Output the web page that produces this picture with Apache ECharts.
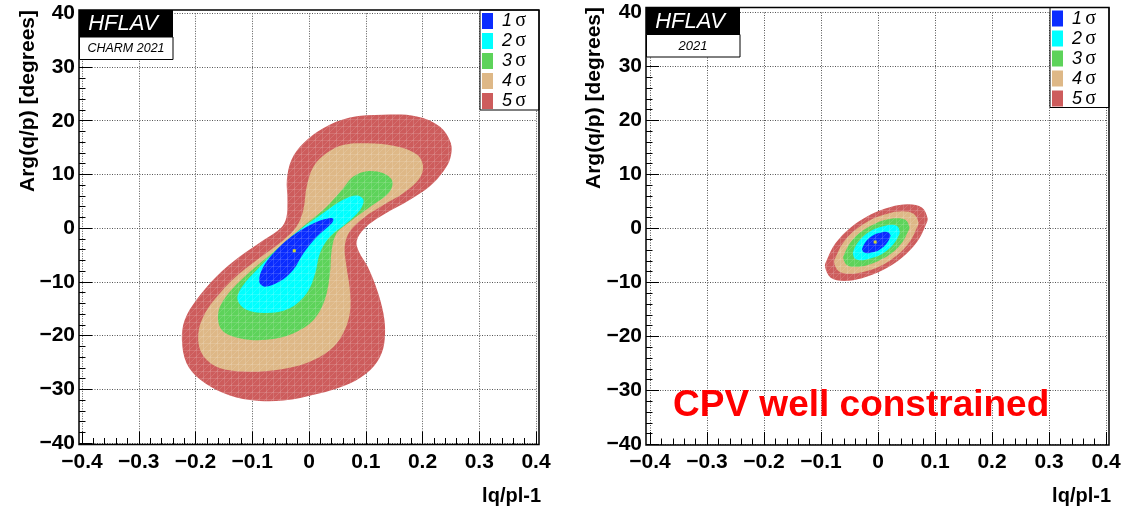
<!DOCTYPE html>
<html>
<head>
<meta charset="utf-8">
<script src="https://cdn.jsdelivr.net/npm/echarts@6/dist/echarts.min.js"></script>
<style>
  html, body { margin: 0; padding: 0; background: #fff; }
  #chart { width: 1135px; height: 509px; }
</style>
</head>
<body>
<div id="chart"></div>
<script>
// Axis ticks shared by both panels
const xTicks = [-0.4, -0.3, -0.2, -0.1, 0, 0.1, 0.2, 0.3, 0.4];
const yTicks = [-40, -30, -20, -10, 0, 10, 20, 30, 40];

const levelNames = ['1 σ', '2 σ', '3 σ', '4 σ', '5 σ'];
const levelColors = ['#0a2cff', '#00ffff', '#5dd35a', '#deb887', '#cd5c5c'];

// CHARM 2021 fit: confidence contours in (|q/p|-1, Arg(q/p)) plane
const charm5 = [[0.131,21.1],[0.190,20.8],[0.231,18.9],[0.250,15.8],[0.249,13.0],[0.237,10.6],[0.213,7.8],[0.178,5.3],[0.131,2.5],[0.098,0.0],[0.084,-2.4],[0.088,-4.4],[0.104,-7.3],[0.120,-11.5],[0.131,-15.8],[0.134,-19.6],[0.128,-23.3],[0.108,-26.4],[0.072,-28.9],[0.014,-30.9],[-0.045,-32.1],[-0.104,-32.0],[-0.151,-30.7],[-0.192,-28.2],[-0.216,-25.1],[-0.224,-20.8],[-0.219,-17.1],[-0.198,-13.3],[-0.163,-9.0],[-0.122,-5.3],[-0.080,-2.2],[-0.050,0.0],[-0.040,1.9],[-0.038,5.3],[-0.039,9.0],[-0.031,12.7],[-0.010,15.8],[0.025,18.6],[0.072,20.6]];
const charm4 = [[0.102,15.8],[0.155,15.2],[0.190,13.7],[0.201,11.5],[0.193,9.0],[0.166,6.5],[0.131,4.3],[0.096,1.9],[0.072,-0.6],[0.063,-3.4],[0.066,-7.1],[0.072,-11.5],[0.072,-15.8],[0.060,-19.6],[0.037,-22.7],[-0.004,-25.1],[-0.057,-26.4],[-0.116,-26.7],[-0.163,-25.8],[-0.189,-23.3],[-0.195,-19.6],[-0.183,-15.8],[-0.157,-12.1],[-0.122,-8.4],[-0.080,-5.0],[-0.045,-2.2],[-0.022,0.3],[-0.010,3.4],[-0.004,7.8],[0.008,11.5],[0.031,14.0],[0.060,15.5]];
const charm3 = [[0.102,10.6],[0.131,10.2],[0.147,8.7],[0.140,6.5],[0.108,4.0],[0.072,1.2],[0.049,-0.9],[0.040,-4.0],[0.037,-8.4],[0.028,-13.3],[0.008,-17.1],[-0.028,-19.6],[-0.075,-20.8],[-0.122,-20.5],[-0.154,-18.9],[-0.160,-15.8],[-0.148,-13.0],[-0.122,-9.9],[-0.086,-6.5],[-0.045,-2.8],[-0.004,0.9],[0.031,4.0],[0.060,7.4],[0.078,9.6]];
const charm2 = [[0.084,6.1],[0.096,5.3],[0.090,3.4],[0.066,0.9],[0.037,-1.6],[0.019,-4.7],[0.011,-8.4],[-0.004,-12.1],[-0.034,-14.9],[-0.075,-15.8],[-0.110,-15.2],[-0.126,-13.3],[-0.118,-10.9],[-0.092,-7.8],[-0.057,-4.0],[-0.016,-0.3],[0.025,2.8],[0.060,5.3]];
const charm1 = [[0.043,1.7],[0.040,0.9],[0.014,-1.6],[-0.010,-4.7],[-0.028,-7.8],[-0.051,-9.9],[-0.078,-10.9],[-0.088,-9.9],[-0.080,-7.1],[-0.057,-4.0],[-0.022,-0.9],[0.014,1.2],[0.037,1.9]];
const charmBest = [[-0.026, -4.2]];

// 2021 fit with CPV well constrained
const cpv5 = [[0.087,1.9],[0.077,3.9],[0.054,4.5],[0.022,4.0],[-0.013,2.6],[-0.048,0.2],[-0.075,-2.8],[-0.090,-5.9],[-0.093,-7.1],[-0.083,-9.1],[-0.060,-9.7],[-0.028,-9.2],[0.007,-7.8],[0.042,-5.4],[0.069,-2.4],[0.084,0.7]];
const cpv4 = [[0.071,1.1],[0.063,2.7],[0.044,3.2],[0.018,2.8],[-0.011,1.7],[-0.040,-0.3],[-0.062,-2.8],[-0.074,-5.3],[-0.077,-6.3],[-0.069,-7.9],[-0.050,-8.4],[-0.024,-8.0],[0.005,-6.9],[0.034,-4.9],[0.056,-2.4],[0.068,0.1]];
const cpv3 = [[0.055,0.3],[0.048,1.6],[0.033,1.9],[0.013,1.6],[-0.009,0.7],[-0.032,-0.8],[-0.049,-2.7],[-0.059,-4.7],[-0.061,-5.5],[-0.054,-6.8],[-0.039,-7.1],[-0.019,-6.8],[0.003,-5.9],[0.026,-4.4],[0.043,-2.5],[0.053,-0.5]];
const cpv2 = [[0.038,-0.5],[0.034,0.4],[0.023,0.7],[0.009,0.4],[-0.008,-0.2],[-0.024,-1.3],[-0.036,-2.7],[-0.043,-4.1],[-0.044,-4.7],[-0.040,-5.6],[-0.029,-5.9],[-0.015,-5.6],[0.002,-5.0],[0.018,-3.9],[0.030,-2.5],[0.037,-1.1]];
const cpv1 = [[0.022,-1.3],[0.019,-0.8],[0.013,-0.6],[0.004,-0.8],[-0.006,-1.1],[-0.016,-1.8],[-0.023,-2.7],[-0.027,-3.5],[-0.028,-3.9],[-0.025,-4.4],[-0.019,-4.6],[-0.010,-4.4],[0.000,-4.1],[0.010,-3.4],[0.017,-2.5],[0.021,-1.7]];
const cpvBest = [[-0.005, -2.5]];

const FONT = '"Liberation Sans", Arial, Helvetica, sans-serif';

// faint crosshatch texture laid over the filled contours
function hatchTile() {
  const c = document.createElement('canvas');
  c.width = 7; c.height = 7;
  const g = c.getContext('2d');
  g.strokeStyle = 'rgba(255,255,255,0.13)';
  g.lineWidth = 1;
  g.beginPath();
  g.moveTo(0.5, 0); g.lineTo(0.5, 7);
  g.moveTo(0, 0.5); g.lineTo(7, 0.5);
  g.moveTo(0, 7); g.lineTo(7, 0);
  g.stroke();
  return c;
}
const hatch = { image: hatchTile(), repeat: 'repeat' };

function region(name, pts, fill, axis, z) {
  return {
    type: 'custom',
    name: name,
    xAxisIndex: axis, yAxisIndex: axis,
    z: z,
    silent: true,
    animation: false,
    data: pts,
    encode: { x: 0, y: 1 },
    itemStyle: { color: typeof fill === 'string' ? fill : 'rgba(0,0,0,0)' },
    renderItem: function (params, api) {
      if (params.dataIndex !== 0) return null;
      return {
        type: 'polygon',
        shape: { points: pts.map(p => api.coord(p)), smooth: 0.35 },
        style: { fill: fill, stroke: null }
      };
    }
  };
}

function bestFit(pts, axis) {
  return {
    type: 'scatter', xAxisIndex: axis, yAxisIndex: axis, z: 20,
    silent: true, animation: false,
    symbol: 'rect', symbolSize: 3,
    itemStyle: { color: '#ffff00' },
    data: pts
  };
}

const panels = [
  { levels: [charm5, charm4, charm3, charm2, charm1], best: charmBest },
  { levels: [cpv5, cpv4, cpv3, cpv2, cpv1], best: cpvBest }
];

const series = [];
panels.forEach((p, axis) => {
  p.levels.forEach((pts, i) => {
    const lvl = 4 - i;
    series.push(region(levelNames[lvl], pts, levelColors[lvl], axis, 2 + i));
  });
  series.push(region('hatch', p.levels[0], hatch, axis, 8));
  series.push(bestFit(p.best, axis));
});

const minus = s => s.replace('-', '\u2212');
const xFmt = v => minus(Math.abs(v) < 1e-9 ? '0' : String(+v.toFixed(1)));
const yFmt = v => minus(String(Math.round(v)));

const labelStyle = { color: '#000', fontFamily: FONT, fontWeight: 'bold', fontSize: 21 };
const gridLine = { show: true, lineStyle: { color: '#555', width: 1, type: [1, 1.5] } };

function xAxis(gridIndex, offset) {
  return {
    type: 'value', gridIndex: gridIndex,
    min: xTicks[0], max: xTicks[xTicks.length - 1], interval: xTicks[1] - xTicks[0],
    offset: offset,
    axisLine: { show: false, onZero: false },
    axisTick: { show: true, inside: true, length: 13, lineStyle: { color: '#000', width: 1 } },
    minorTick: { show: true, splitNumber: 5, length: 6.5, lineStyle: { color: '#000', width: 1 } },
    splitLine: gridLine,
    axisLabel: Object.assign({ margin: 7, formatter: xFmt }, labelStyle)
  };
}
function yAxis(gridIndex, offset) {
  return {
    type: 'value', gridIndex: gridIndex,
    min: yTicks[0], max: yTicks[yTicks.length - 1], interval: yTicks[1] - yTicks[0],
    offset: offset,
    axisLine: { show: false, onZero: false },
    axisTick: { show: true, inside: true, length: 13, lineStyle: { color: '#000', width: 1 } },
    minorTick: { show: true, splitNumber: 5, length: 6.5, lineStyle: { color: '#000', width: 1 } },
    splitLine: gridLine,
    axisLabel: Object.assign({ margin: 4, formatter: yFmt }, labelStyle)
  };
}

function legend(left, top) {
  return {
    left: left, top: top, z: 30,
    orient: 'vertical',
    padding: [1, 2, 2, 2],
    itemWidth: 11, itemHeight: 16, itemGap: 0,
    icon: 'rect',
    selectedMode: false,
    data: levelNames,
    formatter: name => { const t = name.split(' '); return '{n|' + t[0] + '} {s|' + t[1] + '}'; },
    textStyle: {
      color: '#000',
      rich: {
        n: { fontFamily: FONT, fontStyle: 'italic', fontSize: 18, padding: [0, 0, 0, 4], color: '#000' },
        s: { fontFamily: '"Liberation Serif", "DejaVu Serif", serif', fontSize: 20, color: '#000' }
      }
    }
  };
}

function panelDecor(f, sub, subSize, yTitle, xTitleRight) {
  const els = [];
  // frame
  els.push({ type: 'rect', z: 40, silent: true,
    shape: { x: f.x, y: f.y, width: f.w, height: f.h },
    style: { fill: null, stroke: '#000', lineWidth: 1.5 } });
  // HFLAV label
  els.push({ type: 'rect', z: 40, silent: true,
    shape: { x: f.x, y: f.y, width: 94, height: 27 },
    style: { fill: '#000' } });
  els.push({ type: 'rect', z: 40, silent: true,
    shape: { x: f.x + 0.5, y: f.y + 27, width: 93.5, height: 22.5 },
    style: { fill: '#fff', stroke: '#000', lineWidth: 1 } });
  els.push({ type: 'text', z: 41, silent: true, x: f.x + 44, y: f.y + 14,
    style: { text: 'HFLAV', fill: '#fff', font: 'italic 22px ' + FONT, align: 'center', verticalAlign: 'middle' } });
  els.push({ type: 'text', z: 41, silent: true, x: f.x + 47, y: f.y + 39,
    style: { text: sub, fill: '#000', font: 'italic ' + subSize + 'px ' + FONT, align: 'center', verticalAlign: 'middle' } });
  // legend box
  els.push({ type: 'rect', z: 25, silent: true,
    shape: { x: f.x + f.w - 59, y: f.y, width: 59, height: 100 },
    style: { fill: '#fff', stroke: '#000', lineWidth: 1 } });
  // axis titles
  els.push({ type: 'text', z: 41, silent: true, x: yTitle.x, y: yTitle.y, rotation: Math.PI / 2,
    style: { text: 'Arg(q/p) [degrees]', fill: '#000', font: 'bold 21px ' + FONT, align: 'right', verticalAlign: 'middle' } });
  els.push({ type: 'text', z: 41, silent: true, x: xTitleRight, y: 496,
    style: { text: 'lq/pl-1', fill: '#000', font: 'bold 20px ' + FONT, align: 'right', verticalAlign: 'middle' } });
  return els;
}

const frameL = { x: 79, y: 10, w: 460, h: 434.5 };
const frameR = { x: 646, y: 7.5, w: 463, h: 437.5 };

const graphics = []
  .concat(panelDecor(frameL, 'CHARM 2021', 12.5, { x: 28, y: 10 }, 541))
  .concat(panelDecor(frameR, '2021', 13, { x: 594, y: 7 }, 1111));
graphics.push({ type: 'text', z: 41, silent: true, x: 673, y: 406,
  style: { text: 'CPV well constrained', fill: '#ff0000', font: 'bold 37px ' + FONT, align: 'left', verticalAlign: 'middle' } });

const chart = echarts.init(document.getElementById('chart'), null, { renderer: 'canvas' });
chart.setOption({
  animation: false,
  backgroundColor: '#fff',
  grid: [
    { left: 82, top: 13.3, width: 454, height: 429.7 },
    { left: 650, top: 12.5, width: 456, height: 432 }
  ],
  xAxis: [xAxis(0, 1.5), xAxis(1, 0.5)],
  yAxis: [yAxis(0, 3), yAxis(1, 4)],
  legend: [legend(frameL.x + frameL.w - 59, frameL.y), legend(frameR.x + frameR.w - 59, frameR.y)],
  graphic: { elements: graphics },
  series: series
});
</script>
</body>
</html>
